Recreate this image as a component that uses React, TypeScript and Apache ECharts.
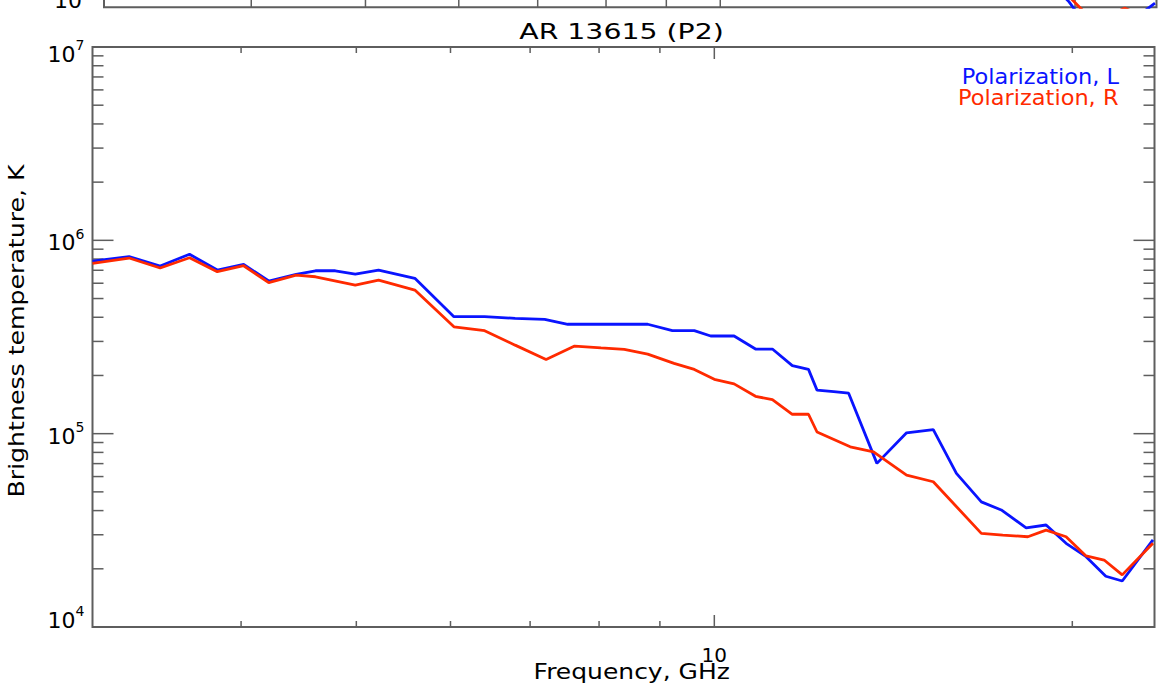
import React, { useEffect, useRef } from 'react';
import * as echarts from 'echarts';

// ---- data: lower panel (AR 13615, P2) ----
const freqL = [3.0, 3.22, 3.42, 3.62, 3.82, 4.02, 4.22, 4.45, 4.62, 4.80, 4.99, 5.22, 5.60, 6.04, 6.41, 6.80, 7.20, 7.53, 8.79, 9.22, 9.62, 9.93, 10.39, 10.83, 11.19, 11.63, 12.00, 12.20, 12.60, 12.97, 13.70, 14.51, 15.28, 15.98, 16.77, 17.43, 18.29, 19.01, 19.76, 20.54, 21.34, 22.03, 23.38];
const tbL = [7.81e5, 8.23e5, 7.36e5, 8.47e5, 7.02e5, 7.51e5, 6.16e5, 6.67e5, 6.96e5, 6.96e5, 6.69e5, 7.02e5, 6.36e5, 4.03e5, 4.03e5, 3.95e5, 3.90e5, 3.68e5, 3.68e5, 3.41e5, 3.41e5, 3.20e5, 3.20e5, 2.74e5, 2.74e5, 2.25e5, 2.15e5, 1.68e5, 1.65e5, 1.62e5, 7.02e4, 1.01e5, 1.05e5, 6.23e4, 4.44e4, 4.03e4, 3.26e4, 3.37e4, 2.71e4, 2.31e4, 1.83e4, 1.73e4, 2.82e4];
const freqR = [3.0, 3.22, 3.42, 3.62, 3.82, 4.02, 4.22, 4.45, 4.62, 4.99, 5.22, 5.60, 6.04, 6.41, 6.80, 7.22, 7.63, 8.03, 8.40, 8.79, 9.25, 9.62, 10.0, 10.39, 10.83, 11.19, 11.63, 12.00, 12.20, 13.01, 13.61, 14.51, 15.28, 16.77, 17.48, 18.35, 19.01, 19.76, 20.54, 21.27, 22.03, 23.38];
const tbR = [7.60e5, 8.10e5, 7.19e5, 8.13e5, 6.88e5, 7.39e5, 6.04e5, 6.61e5, 6.48e5, 5.87e5, 6.23e5, 5.53e5, 3.57e5, 3.41e5, 2.87e5, 2.42e5, 2.84e5, 2.78e5, 2.73e5, 2.58e5, 2.31e5, 2.15e5, 1.91e5, 1.81e5, 1.56e5, 1.50e5, 1.26e5, 1.26e5, 1.02e5, 8.55e4, 8.06e4, 6.11e4, 5.64e4, 3.05e4, 2.99e4, 2.93e4, 3.17e4, 2.93e4, 2.33e4, 2.22e4, 1.86e4, 2.71e4];

// ---- data: visible bottom fragment of the upper panel ----
const freqUpL = [19.01, 19.76, 20.54, 21.34, 22.03, 23.38];
const tbUpL = [1.36e4, 1.07e4, 7.8e3, 7.5e3, 8.0e3, 1.05e4];
const freqUpR = [19.01, 19.76, 20.54, 21.34, 22.03, 23.38];
const tbUpR = [1.5e4, 1.14e4, 8.96e3, 9.0e3, 0.99e4, 8.5e3];

// ---- axes / ticks ----
const xMin = 3;
const xMax = 23.45;
const yMin = 1e4;
const yMax = 1e7;
const xMinorTicks = [4, 5, 6, 7, 8, 9, 20];
const xMajorTicks = [10];
const yMajorTicks = [1e4, 1e5, 1e6, 1e7];
const yMinorTicks = [2e4, 3e4, 4e4, 5e4, 6e4, 7e4, 8e4, 9e4, 2e5, 3e5, 4e5, 5e5, 6e5, 7e5, 8e5, 9e5, 2e6, 3e6, 4e6, 5e6, 6e6, 7e6, 8e6, 9e6];

const titleText = 'AR 13615 (P2)';
const xName = 'Frequency, GHz';
const yName = 'Brightness temperature, K';
const legendL = 'Polarization, L';
const legendR = 'Polarization, R';

const BLUE = '#0a14ff';
const RED = '#ff2a00';
const AXIS = '#5e5e5e';
const FONT = 'DejaVu Sans';

const pairs = (xs: number[], ys: number[]) => xs.map((x, i) => [x, ys[i]]);

const yLabelFormatter = (v: number) => {
  const e = Math.round(Math.log10(v));
  let k = 'm';
  if (v <= yMin * 1.001) k = 'l';
  else if (v >= yMax * 0.999) k = 'h';
  return `{${k}b|10}{${k}s|${e}}`;
};

const upperYLabelFormatter = (v: number) => (v <= yMin * 1.001 ? yLabelFormatter(v) : '');

const richY = {
  mb: { fontSize: 22, fontFamily: FONT, color: '#000', verticalAlign: 'bottom' },
  ms: { fontSize: 14, fontFamily: FONT, color: '#000', verticalAlign: 'top', padding: [0, 0, 13, 0] },
  hb: { fontSize: 22, fontFamily: FONT, color: '#000', verticalAlign: 'bottom', padding: [9, 0, 0, 0] },
  hs: { fontSize: 14, fontFamily: FONT, color: '#000', verticalAlign: 'top', padding: [9, 0, 13, 0] },
  lb: { fontSize: 22, fontFamily: FONT, color: '#000', verticalAlign: 'bottom', padding: [0, 0, 19, 0] },
  ls: { fontSize: 14, fontFamily: FONT, color: '#000', verticalAlign: 'top', padding: [0, 0, 32, 0] },
};

export default function App() {
  const ref = useRef<HTMLDivElement>(null);

  useEffect(() => {
    if (!ref.current) return;
    const chart = echarts.init(ref.current, undefined, { renderer: 'svg' });

    const tickLine = (x1: number, y1: number, x2: number, y2: number) => ({
      type: 'line',
      shape: { x1, y1, x2, y2 },
      style: { stroke: AXIS, lineWidth: 1.5 },
    });

    const lowerTicks = (params: any, api: any) => {
      const cs = params.coordSys;
      const left = cs.x;
      const right = cs.x + cs.width;
      const top = cs.y;
      const bottom = cs.y + cs.height;
      const children: any[] = [];
      xMinorTicks.forEach((f) => {
        const px = api.coord([f, yMin])[0];
        children.push(tickLine(px, bottom, px, bottom - 6));
        children.push(tickLine(px, top, px, top + 6));
      });
      xMajorTicks.forEach((f) => {
        const px = api.coord([f, yMin])[0];
        children.push(tickLine(px, bottom, px, bottom - 12));
        children.push(tickLine(px, top, px, top + 12));
      });
      yMinorTicks.forEach((t) => {
        const py = api.coord([xMin, t])[1];
        children.push(tickLine(left, py, left + 11, py));
        children.push(tickLine(right, py, right - 11, py));
      });
      yMajorTicks.forEach((t) => {
        const py = api.coord([xMin, t])[1];
        children.push(tickLine(left, py, left + 21, py));
        children.push(tickLine(right, py, right - 21, py));
      });
      return { type: 'group', children };
    };

    const upperTicks = (params: any, api: any) => {
      const cs = params.coordSys;
      const bottom = cs.y + cs.height;
      const children: any[] = [];
      [...xMinorTicks, ...xMajorTicks].forEach((f) => {
        const px = api.coord([f, yMin])[0];
        children.push(tickLine(px, bottom, px, bottom - 10));
      });
      return { type: 'group', children };
    };

    const xAxisBase = {
      type: 'log',
      logBase: 10,
      min: xMin,
      max: xMax,
      axisLine: { show: false },
      axisTick: { show: false },
      splitLine: { show: false },
      minorTick: { show: false },
    };
    const yAxisBase = {
      type: 'log',
      logBase: 10,
      min: yMin,
      max: yMax,
      axisLine: { show: false },
      axisTick: { show: false },
      splitLine: { show: false },
      minorTick: { show: false },
    };

    const option: any = {
      animation: false,
      backgroundColor: '#fff',
      grid: [
        {
          left: 92.5, right: 5.5, top: 47, height: 580,
          show: true, borderColor: AXIS, borderWidth: 2, backgroundColor: 'transparent',
          containLabel: false, outerBoundsMode: 'none',
        },
        {
          left: 104, right: 3.5, top: -572.7, height: 580,
          show: true, borderColor: AXIS, borderWidth: 2, backgroundColor: 'transparent',
          containLabel: false, outerBoundsMode: 'none',
        },
      ],
      xAxis: [
        {
          ...xAxisBase,
          gridIndex: 0,
          axisLabel: {
            formatter: (v: number) => (Math.abs(v - 10) < 1e-6 ? '10' : ''),
            fontSize: 20, fontFamily: FONT, color: '#000', margin: 18,
          },
        },
        { ...xAxisBase, gridIndex: 1, axisLabel: { show: false } },
      ],
      yAxis: [
        {
          ...yAxisBase,
          gridIndex: 0,
          axisLabel: { formatter: yLabelFormatter, rich: richY, margin: 8 },
        },
        {
          ...yAxisBase,
          gridIndex: 1,
          axisLabel: { formatter: upperYLabelFormatter, rich: richY, margin: 13 },
        },
      ],
      series: [
        {
          type: 'custom', xAxisIndex: 0, yAxisIndex: 0, silent: true, clip: false,
          data: [[10, 1e5]], renderItem: lowerTicks, z: 1,
        },
        {
          type: 'custom', xAxisIndex: 1, yAxisIndex: 1, silent: true, clip: false,
          data: [[10, 1e5]], renderItem: upperTicks, z: 1,
        },
        {
          name: legendL, type: 'line', xAxisIndex: 0, yAxisIndex: 0,
          data: pairs(freqL, tbL), showSymbol: false, symbol: 'none',
          lineStyle: { color: BLUE, width: 2.8 }, itemStyle: { color: BLUE }, z: 3,
        },
        {
          name: legendR, type: 'line', xAxisIndex: 0, yAxisIndex: 0,
          data: pairs(freqR, tbR), showSymbol: false, symbol: 'none',
          lineStyle: { color: RED, width: 2.8 }, itemStyle: { color: RED }, z: 4,
        },
        {
          type: 'line', xAxisIndex: 1, yAxisIndex: 1,
          data: pairs(freqUpL, tbUpL), showSymbol: false, symbol: 'none',
          lineStyle: { color: BLUE, width: 2.8 }, z: 3,
        },
        {
          type: 'line', xAxisIndex: 1, yAxisIndex: 1,
          data: pairs(freqUpR, tbUpR), showSymbol: false, symbol: 'none',
          lineStyle: { color: RED, width: 2.8 }, z: 4,
        },
      ],
      graphic: [
        {
          type: 'text', x: 621.5, y: 32, scaleX: 1.35, silent: true,
          style: { text: titleText, fill: '#000', font: `21px "${FONT}"`, align: 'center', verticalAlign: 'middle' },
        },
        {
          type: 'text', x: 631.7, y: 672, scaleX: 1.19, silent: true,
          style: { text: xName, fill: '#000', font: `21px "${FONT}"`, align: 'center', verticalAlign: 'middle' },
        },
        {
          type: 'text', x: 16, y: 331, rotation: Math.PI / 2, scaleX: 1.2, silent: true,
          style: { text: yName, fill: '#000', font: `21px "${FONT}"`, align: 'center', verticalAlign: 'middle' },
        },
        {
          type: 'text', x: 1119, y: 77, scaleX: 1.07, silent: true,
          style: { text: legendL, fill: BLUE, font: `21px "${FONT}"`, align: 'right', verticalAlign: 'middle' },
        },
        {
          type: 'text', x: 1118.5, y: 97.5, scaleX: 1.07, silent: true,
          style: { text: legendR, fill: RED, font: `21px "${FONT}"`, align: 'right', verticalAlign: 'middle' },
        },
      ],
    };

    chart.setOption(option);
    return () => chart.dispose();
  }, []);

  return (
    <div
      ref={ref}
      style={{ position: 'absolute', left: 0, top: 0, width: 1160, height: 692, background: '#fff' }}
    />
  );
}
